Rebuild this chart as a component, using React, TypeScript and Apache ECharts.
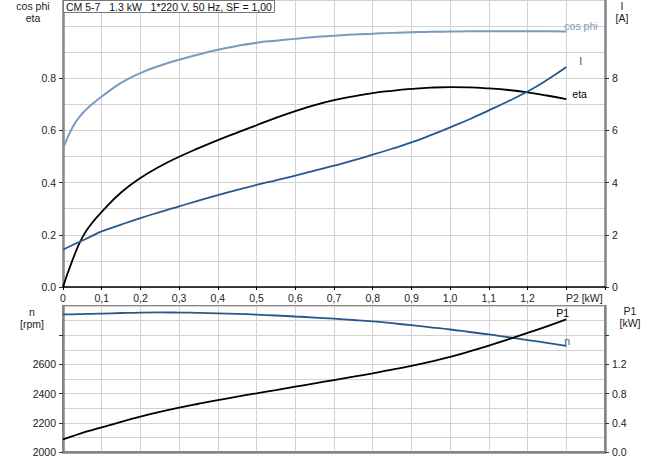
import React, { useEffect, useRef } from "react";
import * as echarts from "echarts";

// Shaft power P2 [kW] (x positions of the read points)
const P2 = [
  0, 0.025, 0.05, 0.075, 0.1, 0.15, 0.2, 0.25, 0.3, 0.35, 0.4, 0.45, 0.5, 0.55, 0.6, 0.65,
  0.7, 0.75, 0.8, 0.85, 0.9, 0.95, 1.0, 1.05, 1.1, 1.15, 1.2, 1.25, 1.3,
];
// Top chart
const COS_PHI = [
  0.529, 0.613, 0.665, 0.7, 0.73, 0.782, 0.82, 0.848, 0.871, 0.891, 0.909, 0.924, 0.936, 0.944, 0.951, 0.958,
  0.963, 0.968, 0.971, 0.974, 0.976, 0.978, 0.979, 0.98, 0.98, 0.98, 0.98, 0.98, 0.979,
];
const ETA = [
  0, 0.105, 0.19, 0.245, 0.288, 0.362, 0.418, 0.462, 0.499, 0.532, 0.563, 0.592, 0.62, 0.648, 0.674, 0.697,
  0.716, 0.731, 0.743, 0.752, 0.759, 0.764, 0.766, 0.765, 0.761, 0.755, 0.746, 0.734, 0.72,
];
const CURRENT = [
  1.43, 1.61, 1.78, 1.96, 2.13, 2.39, 2.64, 2.87, 3.09, 3.31, 3.52, 3.72, 3.91, 4.09, 4.27, 4.46,
  4.65, 4.85, 5.07, 5.3, 5.54, 5.82, 6.12, 6.43, 6.77, 7.12, 7.49, 7.93, 8.43,
];
// Bottom chart
const SPEED = [
  2942, 2943, 2945, 2946, 2948, 2952, 2955, 2956, 2955, 2953, 2950, 2946, 2941, 2935, 2928, 2921,
  2913, 2904, 2894, 2882, 2869, 2854, 2839, 2822, 2805, 2786, 2767, 2747, 2727,
];
const P1 = [
  0.174, 0.218, 0.262, 0.3, 0.338, 0.414, 0.484, 0.548, 0.607, 0.661, 0.712, 0.759, 0.804, 0.849, 0.895, 0.94,
  0.986, 1.031, 1.078, 1.127, 1.18, 1.238, 1.302, 1.378, 1.458, 1.543, 1.631, 1.722, 1.818,
];

// Tick labels
const X_LABELS = ["0", "0,1", "0,2", "0,3", "0,4", "0,5", "0,6", "0,7", "0,8", "0,9", "1,0", "1,1", "1,2", "P2 [kW]", ""];
const ETA_LABELS = [0, 0.2, 0.4, 0.6, 0.8];
const I_LABELS = [0, 2, 4, 6, 8];
const N_LABELS = [2000, 2200, 2400, 2600];
const N_TICKS = [2000, 2200, 2400, 2600, 2800];
const P1_LABELS = [0, 0.4, 0.8, 1.2];
const P1_TICKS = [0, 0.4, 0.8, 1.2, 1.6];

const TITLE = "CM 5-7   1.3 kW   1*220 V, 50 Hz, SF = 1,00";

const FONT = "Liberation Sans, Arial, sans-serif";
const FS = 10.5;
const LIGHT_BLUE = "#7a9bc0";
const DARK_BLUE = "#245a8e";
const AXIS_GRAY = "#858585";
const GRID_GRAY = "#d2d2d2";
const TEXT = "#222";

const pairs = (ys: number[]) => P2.map((x, i) => [x, ys[i]]);

export default function App() {
  const ref = useRef<HTMLDivElement>(null);
  useEffect(() => {
    if (!ref.current) return;
    const chart = echarts.init(ref.current, null, { renderer: "svg" });
    const labelStyle = { fontSize: FS, color: TEXT, fontFamily: FONT };
    const inList = (list: number[]) => (v: number) =>
      list.some((l) => Math.abs(l - v) < 1e-6);

    const gridYAxis = (grid: number, min: number, max: number, interval: number) => ({
      type: "value",
      gridIndex: grid,
      position: "left",
      min,
      max,
      interval,
      axisLine: { show: true, lineStyle: { color: AXIS_GRAY, width: 2.5 } },
      axisTick: { show: false },
      axisLabel: { show: false },
      splitLine: { show: true, lineStyle: { color: GRID_GRAY, width: 1 } },
    });

    const labelYAxis = (
      grid: number,
      position: string,
      min: number,
      max: number,
      labels: number[],
      ticks: number[],
      digits: number,
      showLine: boolean
    ) => ({
      type: "value",
      gridIndex: grid,
      position,
      min,
      max,
      axisLine: { show: showLine, lineStyle: { color: AXIS_GRAY, width: 2.5 } },
      axisTick: {
        show: true,
        length: 4,
        customValues: ticks,
        lineStyle: { color: "#333", width: 1 },
      },
      axisLabel: {
        show: true,
        customValues: labels,
        margin: 7,
        ...labelStyle,
        formatter: (v: number) => (inList(labels)(v) ? v.toFixed(digits) : ""),
      },
      splitLine: { show: false },
    });

    const line = (
      name: string,
      xi: number,
      yi: number,
      ys: number[],
      color: string,
      width: number,
      offset: number[],
      labelColor: string
    ) => ({
      type: "line",
      name,
      xAxisIndex: xi,
      yAxisIndex: yi,
      data: pairs(ys),
      smooth: 0.5,
      showSymbol: false,
      lineStyle: { color, width },
      itemStyle: { color },
      endLabel: {
        show: true,
        formatter: name,
        distance: 0,
        offset,
        fontSize: FS,
        fontFamily: FONT,
        color: labelColor,
      },
      z: 3,
    });

    const axisTitle = (text: string, x: number, y: number) => ({
      type: "text",
      x,
      y,
      z: 10,
      style: {
        text,
        fontSize: FS,
        lineHeight: 12,
        fill: TEXT,
        fontFamily: FONT,
        textAlign: "center",
        textVerticalAlign: "top",
      },
    });

    chart.setOption({
      animation: false,
      backgroundColor: "#fff",
      title: {
        text: TITLE,
        left: 63,
        top: 0,
        padding: [1, 3, 1, 3],
        borderWidth: 1,
        borderColor: "#777",
        backgroundColor: "#fff",
        textStyle: { fontSize: FS, fontWeight: "normal", color: "#111", fontFamily: FONT },
      },
      grid: [
        { left: 63, right: 51, top: 0, height: 287, show: false },
        { left: 63, right: 51, top: 306, height: 146, show: true, borderColor: AXIS_GRAY, borderWidth: 2 },
      ],
      xAxis: [
        {
          type: "value",
          gridIndex: 0,
          min: 0,
          max: 1.4,
          interval: 0.1,
          axisLine: { show: true, onZero: false, lineStyle: { color: "#000", width: 1.5 } },
          axisTick: { show: true, length: 3, lineStyle: { color: "#000" } },
          axisLabel: {
            show: true,
            margin: 5,
            ...labelStyle,
            formatter: (v: number) => {
              const i = Math.round(v * 10);
              const t = X_LABELS[i] ?? "";
              return t.startsWith("P2") ? "{p|" + t + "}" : t;
            },
            rich: { p: { padding: [0, 0, 0, 36], fontSize: FS, color: TEXT, fontFamily: FONT } },
          },
          splitLine: { show: true, lineStyle: { color: GRID_GRAY, width: 1 } },
        },
        {
          type: "value",
          gridIndex: 1,
          min: 0,
          max: 1.4,
          interval: 0.1,
          axisLine: { show: true, onZero: false, lineStyle: { color: AXIS_GRAY, width: 2.5 } },
          axisTick: { show: false },
          axisLabel: { show: false },
          splitLine: { show: true, lineStyle: { color: GRID_GRAY, width: 1 } },
        },
      ],
      yAxis: [
        gridYAxis(0, 0, 1.1, 0.1),
        labelYAxis(0, "left", 0, 1.1, ETA_LABELS, ETA_LABELS, 1, false),
        labelYAxis(0, "right", 0, 11, I_LABELS, I_LABELS, 0, true),
        gridYAxis(1, 2000, 3000, 100),
        labelYAxis(1, "left", 2000, 3000, N_LABELS, N_TICKS, 0, false),
        labelYAxis(1, "right", 0, 2, P1_LABELS, P1_TICKS, 1, true),
      ],
      graphic: [
        axisTitle("cos phi\neta", 33, 0),
        axisTitle("I\n[A]", 622, 0),
        axisTitle("n\n[rpm]", 32, 306),
        axisTitle("P1\n[kW]", 630, 305),
      ],
      series: [
        line("cos phi", 0, 0, COS_PHI, LIGHT_BLUE, 2, [-2, -6], LIGHT_BLUE),
        line("eta", 0, 0, ETA, "#000", 1.8, [6, -5], "#000"),
        line("I", 0, 2, CURRENT, DARK_BLUE, 1.8, [13, -6], DARK_BLUE),
        line("n", 1, 3, SPEED, DARK_BLUE, 1.8, [-2, -5], DARK_BLUE),
        line("P1", 1, 5, P1, "#000", 1.8, [-10, -6], "#000"),
      ],
    });
    return () => chart.dispose();
  }, []);
  return (
    <div
      ref={ref}
      style={{ position: "fixed", left: 0, top: 0, width: 656, height: 460 }}
    />
  );
}
